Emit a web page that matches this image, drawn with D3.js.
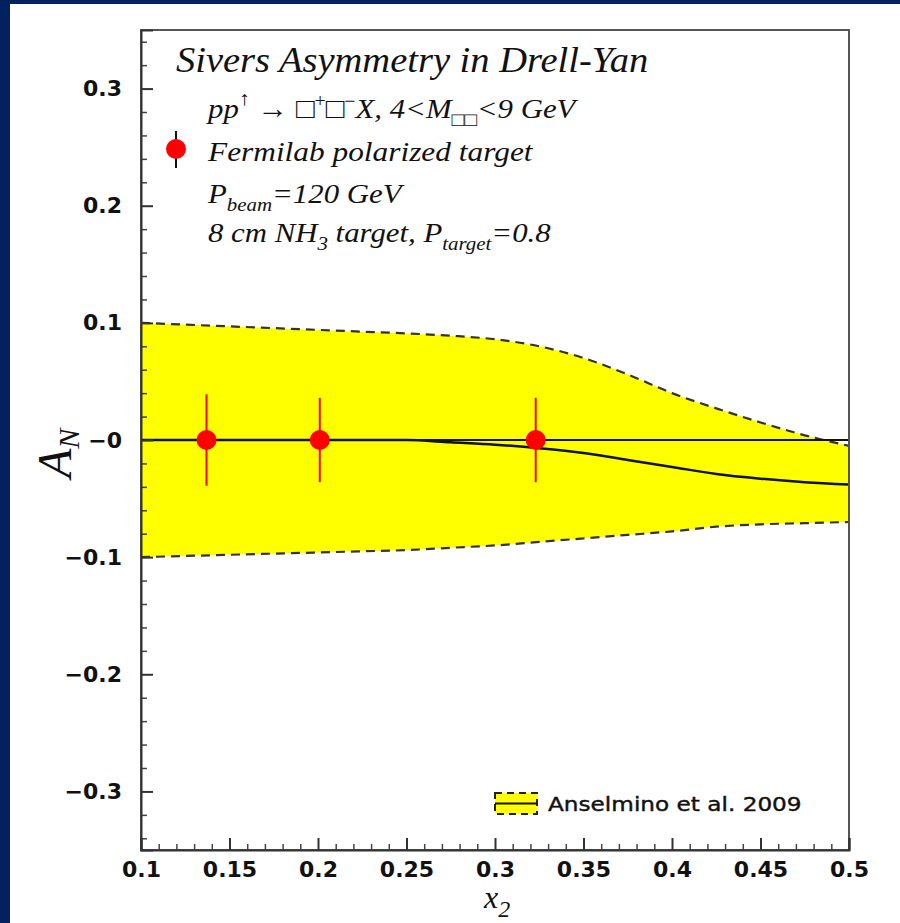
<!DOCTYPE html>
<html>
<head>
<meta charset="utf-8">
<script src="https://cdn.jsdelivr.net/npm/d3@7"></script>
<style>
  html, body { margin: 0; padding: 0; background: #ffffff; }
  svg { display: block; }
</style>
</head>
<body>
<svg id="chart" width="900" height="923"></svg>
<script>
// ---------------- data ----------------
const xGrid      = [0.100, 0.125, 0.150, 0.175, 0.200, 0.225, 0.250, 0.275, 0.300, 0.325, 0.350, 0.375, 0.400, 0.425, 0.450, 0.475, 0.500];
const bandUpper  = [0.100, 0.0985, 0.097, 0.0955, 0.094, 0.0925, 0.091, 0.089, 0.086, 0.080, 0.070, 0.056, 0.040, 0.027, 0.015, 0.004, -0.005];
const bandLower  = [-0.100, -0.099, -0.098, -0.097, -0.096, -0.095, -0.094, -0.092, -0.090, -0.087, -0.084, -0.081, -0.078, -0.074, -0.072, -0.071, -0.070];
const centralCurve = [0, 0, 0, 0, 0, 0, 0, -0.002, -0.004, -0.007, -0.011, -0.017, -0.023, -0.029, -0.033, -0.036, -0.038];

const pointsX   = [0.137, 0.201, 0.323];
const pointsY   = [0.0, 0.0, 0.0];
const pointsErr = [0.039, 0.036, 0.036];

const xTickValues = [0.1, 0.15, 0.2, 0.25, 0.3, 0.35, 0.4, 0.45, 0.5];
const xTickLabels = ["0.1", "0.15", "0.2", "0.25", "0.3", "0.35", "0.4", "0.45", "0.5"];
const yTickValues = [-0.3, -0.2, -0.1, 0, 0.1, 0.2, 0.3];
const yTickLabels = ["\u22120.3", "\u22120.2", "\u22120.1", "\u22120", "0.1", "0.2", "0.3"];

const legendBandLabel = "Anselmino et al. 2009";

// ---------------- layout ----------------
const svg = d3.select("#chart");
const W = 900, H = 923;
const plot = { left: 141, right: 849, top: 30, bottom: 850 };

// page background + navy border (top / left)
svg.append("rect").attr("x", 0).attr("y", 0).attr("width", W).attr("height", H).attr("fill", "#ffffff");
svg.append("rect").attr("x", 0).attr("y", 0).attr("width", W).attr("height", 4).attr("fill", "#03205f");
svg.append("rect").attr("x", 0).attr("y", 0).attr("width", 10).attr("height", H).attr("fill", "#03205f");

const x = d3.scaleLinear().domain([0.1, 0.5]).range([plot.left, plot.right]);
const y = d3.scaleLinear().domain([-0.35, 0.35]).range([plot.bottom, plot.top]);

const bandData = xGrid.map((xv, i) => ({ x: xv, lo: bandLower[i], hi: bandUpper[i], c: centralCurve[i] }));
const curve = d3.curveMonotoneX;

// band
svg.append("path")
  .datum(bandData)
  .attr("fill", "#ffff00")
  .attr("stroke", "none")
  .attr("d", d3.area().x(d => x(d.x)).y0(d => y(d.lo)).y1(d => y(d.hi)).curve(curve));

// dashed borders
["hi", "lo"].forEach(k => {
  svg.append("path")
    .datum(bandData)
    .attr("fill", "none")
    .attr("stroke", "#333333")
    .attr("stroke-width", 2.2)
    .attr("stroke-dasharray", "9,6")
    .attr("d", d3.line().x(d => x(d.x)).y(d => y(d[k])).curve(curve));
});

// zero line
svg.append("line")
  .attr("x1", x(0.1)).attr("x2", x(0.5))
  .attr("y1", y(0)).attr("y2", y(0))
  .attr("stroke", "#111").attr("stroke-width", 2);

// central curve
svg.append("path")
  .datum(bandData)
  .attr("fill", "none")
  .attr("stroke", "#111")
  .attr("stroke-width", 2.5)
  .attr("d", d3.line().x(d => x(d.x)).y(d => y(d.c)).curve(curve));

// data points
const pts = pointsX.map((xv, i) => ({ x: xv, y: pointsY[i], e: pointsErr[i] }));
svg.append("g").selectAll("line").data(pts).join("line")
  .attr("x1", d => x(d.x)).attr("x2", d => x(d.x))
  .attr("y1", d => y(d.y - d.e)).attr("y2", d => y(d.y + d.e))
  .attr("stroke", "#ff0000").attr("stroke-width", 2);
svg.append("g").selectAll("circle").data(pts).join("circle")
  .attr("cx", d => x(d.x)).attr("cy", d => y(d.y)).attr("r", 10)
  .attr("fill", "#ff0000");

// frame
svg.append("rect")
  .attr("x", plot.left).attr("y", plot.top)
  .attr("width", plot.right - plot.left).attr("height", plot.bottom - plot.top)
  .attr("fill", "none").attr("stroke", "#555").attr("stroke-width", 2);

// ---------------- axes ----------------
const tickFont = "'DejaVu Sans', Arial, sans-serif";

// Y minor
const yMinor = d3.range(-34, 35, 2).map(v => v / 100).filter(v => Math.abs(Math.round(v * 100) % 10) !== 0);
svg.append("g").attr("transform", `translate(${plot.left},0)`)
  .call(d3.axisLeft(y).tickValues(yMinor).tickSize(-6).tickFormat(""))
  .call(g => g.select(".domain").remove())
  .call(g => g.selectAll("line").attr("stroke", "#444").attr("stroke-width", 1.5));
// Y major
svg.append("g").attr("transform", `translate(${plot.left},0)`)
  .call(d3.axisLeft(y).tickValues(yTickValues).tickSize(-12).tickPadding(19)
        .tickFormat((d, i) => yTickLabels[i]))
  .call(g => g.select(".domain").attr("stroke", "#333").attr("stroke-width", 2))
  .call(g => g.selectAll("line").attr("stroke", "#333").attr("stroke-width", 2))
  .call(g => g.selectAll("text").attr("font-family", tickFont).attr("font-weight", "bold")
        .attr("font-size", 22).attr("fill", "#111"));

// X minor
const xMinor = d3.range(10, 51, 1).map(v => v / 100).filter(v => Math.round(v * 100) % 5 !== 0);
svg.append("g").attr("transform", `translate(0,${plot.bottom})`)
  .call(d3.axisBottom(x).tickValues(xMinor).tickSize(-6).tickFormat(""))
  .call(g => g.select(".domain").remove())
  .call(g => g.selectAll("line").attr("stroke", "#444").attr("stroke-width", 1.5));
// X major
svg.append("g").attr("transform", `translate(0,${plot.bottom})`)
  .call(d3.axisBottom(x).tickValues(xTickValues).tickSize(-12).tickPadding(11)
        .tickFormat((d, i) => xTickLabels[i]))
  .call(g => g.select(".domain").attr("stroke", "#333").attr("stroke-width", 2))
  .call(g => g.selectAll("line").attr("stroke", "#333").attr("stroke-width", 2))
  .call(g => g.selectAll("text").attr("font-family", tickFont).attr("font-weight", "bold")
        .attr("font-size", 22).attr("fill", "#111"));

// ---------------- axis titles ----------------
const serif = "'Liberation Serif', 'Times New Roman', serif";

const yt = svg.append("text")
  .attr("transform", "translate(71,478) rotate(-90)")
  .attr("font-family", serif).attr("font-style", "italic").attr("fill", "#111");
yt.append("tspan").attr("font-size", 48).text("A");
yt.append("tspan").attr("font-size", 30).attr("dy", 8).text("N");

const xt = svg.append("text")
  .attr("x", 484).attr("y", 908)
  .attr("font-family", serif).attr("font-style", "italic").attr("fill", "#111");
xt.append("tspan").attr("font-size", 32).text("x");
xt.append("tspan").attr("font-size", 24).attr("dy", 9).text("2");

// ---------------- annotation text ----------------
function textBlock(px, py, size, sx) {
  return svg.append("text")
    .attr("transform", `translate(${px},${py}) scale(${sx},1)`)
    .attr("font-family", serif).attr("font-style", "italic")
    .attr("font-size", size).attr("fill", "#111");
}

textBlock(176, 72, 35, 1.1).text("Sivers Asymmetry in Drell-Yan");

const l2 = textBlock(208, 118, 28, 1.1);
l2.append("tspan").text("pp");
l2.append("tspan").attr("font-size", 20).attr("dy", -13).attr("font-style", "normal").text("\u2191");
l2.append("tspan").attr("dy", 13).text(" \u2192 \u25A1");
l2.append("tspan").attr("font-size", 18).attr("dy", -11).attr("font-style", "normal").text("+");
l2.append("tspan").attr("dy", 11).text("\u25A1");
l2.append("tspan").attr("font-size", 18).attr("dy", -11).attr("font-style", "normal").text("\u2212");
l2.append("tspan").attr("dy", 11).text("X,  4<M");
l2.append("tspan").attr("font-size", 19).attr("dy", 8).text("\u25A1\u25A1");
l2.append("tspan").attr("dy", -8).text("<9 GeV");

textBlock(208, 161, 28, 1.12).text("Fermilab polarized target");

const l4 = textBlock(208, 203, 28, 1.1);
l4.append("tspan").text("P");
l4.append("tspan").attr("font-size", 19).attr("dy", 8).text("beam");
l4.append("tspan").attr("dy", -8).text("=120 GeV");

const l5 = textBlock(208, 242, 28, 1.1);
l5.append("tspan").text("8 cm NH");
l5.append("tspan").attr("font-size", 19).attr("dy", 8).text("3");
l5.append("tspan").attr("dy", -8).text(" target, P");
l5.append("tspan").attr("font-size", 19).attr("dy", 8).text("target");
l5.append("tspan").attr("dy", -8).text("=0.8");

// legend marker for data points
svg.append("line").attr("x1", 176).attr("x2", 176).attr("y1", 131).attr("y2", 168)
  .attr("stroke", "#111").attr("stroke-width", 2);
svg.append("circle").attr("cx", 176).attr("cy", 149).attr("r", 10).attr("fill", "#ff0000");

// legend for band
const lg = svg.append("g");
lg.append("rect").attr("x", 495).attr("y", 793).attr("width", 42).attr("height", 21)
  .attr("fill", "#ffff00").attr("stroke", "#222").attr("stroke-width", 2)
  .attr("stroke-dasharray", "7,5");
lg.append("line").attr("x1", 495).attr("x2", 537).attr("y1", 803.5).attr("y2", 803.5)
  .attr("stroke", "#111").attr("stroke-width", 2);
lg.append("text")
  .attr("transform", "translate(548,811) scale(1.22,1)")
  .attr("font-family", "'DejaVu Sans', Arial, sans-serif")
  .attr("font-size", 19).attr("fill", "#111")
  .attr("stroke", "#111").attr("stroke-width", 0.4)
  .text(legendBandLabel);
</script>
</body>
</html>
